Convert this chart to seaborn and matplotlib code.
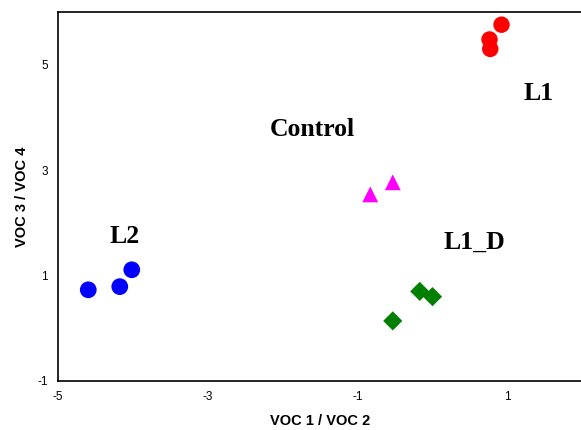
import pandas as pd
import matplotlib
matplotlib.use("Agg")
import matplotlib.pyplot as plt
import seaborn as sns

# Values
l1_x = [0.92, 0.76, 0.77]
l1_y = [5.76, 5.48, 5.30]
ctrl_x = [-0.83, -0.53]
ctrl_y = [2.54, 2.77]
l1d_x = [-0.17, 0.0, -0.53]
l1d_y = [0.70, 0.60, 0.14]
l2_x = [-4.59, -4.17, -4.01]
l2_y = [0.73, 0.79, 1.11]

groups = ["L1", "Control", "L1_D", "L2"]
label_x = [1.42, -1.6, 0.56, -4.1]
label_y = [4.45, 3.78, 1.63, 1.74]

df = pd.DataFrame({
    "x": l1_x + ctrl_x + l1d_x + l2_x,
    "y": l1_y + ctrl_y + l1d_y + l2_y,
    "group": ["L1"] * 3 + ["Control"] * 2 + ["L1_D"] * 3 + ["L2"] * 3,
})

sns.set_style("white")
plt.rcParams["font.family"] = ["Liberation Sans", "DejaVu Sans"]
plt.rcParams["axes.unicode_minus"] = False
plt.rcParams["text.color"] = "black"
plt.rcParams["axes.labelcolor"] = "black"
plt.rcParams["xtick.color"] = "black"
plt.rcParams["ytick.color"] = "black"

fig = plt.figure(figsize=(5.81, 4.30), dpi=100)
ax = fig.add_axes([0.099, 0.114, 0.9036, 0.858])

palette = {"L1": "#ff0000", "Control": "#ff00ff", "L1_D": "#007f00", "L2": "#0000ff"}
markers = {"L1": "o", "Control": "^", "L1_D": "D", "L2": "o"}
sizes = {"L1": 140, "Control": 130, "L1_D": 95, "L2": 145}

for g in groups:
    sub = df[df["group"] == g]
    sns.scatterplot(data=sub, x="x", y="y", color=palette[g], marker=markers[g],
                    s=sizes[g], edgecolor="none", ax=ax, legend=False)

# group labels
for g, tx, ty in zip(groups, label_x, label_y):
    ax.text(tx, ty, g, ha="center", va="center", fontsize=18.5, fontweight="bold",
            color="black", family=["Liberation Serif", "DejaVu Serif"])

ax.set_xlim(-5, 2)
ax.set_ylim(-1, 6)
ax.set_xticks([-5, -3, -1, 1])
ax.set_yticks([-1, 1, 3, 5])
ax.tick_params(axis="both", labelsize=8.5, length=0, pad=7)
ax.set_xlabel("VOC 1 / VOC 2", fontsize=10.5, fontweight="bold", labelpad=8)
ax.set_ylabel("VOC 3 / VOC 4", fontsize=10.5, fontweight="bold", labelpad=6)

for side in ["left", "top", "bottom"]:
    ax.spines[side].set_color("black")
    ax.spines[side].set_linewidth(1.2)
ax.spines["right"].set_visible(False)

fig.savefig("out.png", dpi=100)
